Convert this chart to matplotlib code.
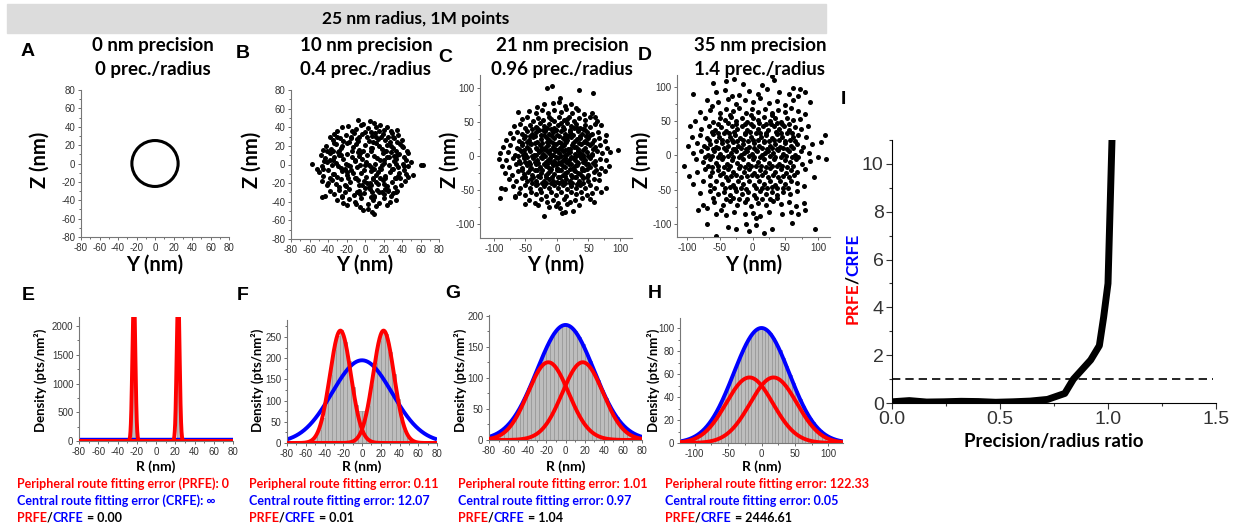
import numpy as np
import matplotlib
matplotlib.use('Agg')
import matplotlib.pyplot as plt
from matplotlib.patches import Circle, Rectangle
from matplotlib.ticker import MultipleLocator, FormatStrFormatter

W, H = 1239, 527
plt.rcParams['font.family'] = ['Liberation Sans', 'DejaVu Sans']
plt.rcParams['axes.unicode_minus'] = False
BOLD = ['Lato', 'DejaVu Sans']
TICKFONT = ['Liberation Sans Narrow', 'Liberation Sans', 'DejaVu Sans']

# ---------------- data ----------------
banner_title = "25 nm radius, 1M points"
precisions = ["0 nm precision", "10 nm precision", "21 nm precision", "35 nm precision"]
prec_ratio = ["0 prec./radius", "0.4 prec./radius", "0.96 prec./radius", "1.4 prec./radius"]
radius_A = 25

B_yz = [(-8,48),(5,47),(-2,44),(10,45),
    (-25,40),(-18,41),(-10,38),(-4,42),(3,39),(12,40),(20,37),(28,36),(35,37),(-30,36),(-14,36),(7,35),(16,42),(24,40),
    (-38,30),(-33,33),(-27,28),(-21,32),(-15,30),(-9,27),(-3,33),(2,29),(8,31),(14,27),(19,33),(25,30),(31,28),(36,32),
    (40,26),(-35,26),(-24,25),(-12,34),(4,25),(11,34),(22,26),(29,34),(-6,30),(17,29),
    (-42,20),(-37,17),(-31,22),(-26,18),(-20,23),(-13,19),(-7,16),(0,21),(6,18),(12,23),(18,17),(24,21),(30,18),(35,24),
    (41,19),(45,15),(-45,16),(-28,15),(-17,24),(-2,15),(9,24),(21,15),(33,15),(38,22),(-34,23),(27,24),(15,20),(-10,22),
    (-48,10),(-43,7),(-38,12),(-33,8),(-29,13),(-24,6),(-19,11),(-14,8),(-8,13),(-3,6),(2,10),(7,14),(13,7),(19,12),
    (24,8),(28,13),(33,6),(37,11),(42,8),(47,12),(-41,14),(-26,10),(-11,5),(10,9),(31,9),(44,5),(-35,5),(16,5),(-6,9),(23,14),
    (-57,1),(-52,-5),(-46,-2),(-41,3),(-36,-1),(-31,2),(-26,-4),(-21,1),(-16,-2),(-11,4),(-5,-1),(1,3),(6,-3),(11,1),
    (16,-4),(21,2),(26,-1),(31,4),(36,-3),(41,1),(46,-2),(50,3),(60,-1),(63,-1),(-29,-2),(-44,4),(18,0),(34,1),(-9,-3),(4,-1),
    (-50,-8),(-45,-12),(-40,-6),(-35,-10),(-30,-13),(-25,-7),(-20,-11),(-15,-6),(-10,-14),(-4,-9),(1,-13),(6,-7),(12,-11),
    (17,-5),(22,-12),(27,-8),(32,-14),(37,-9),(42,-6),(47,-13),(52,-11),(-38,-14),(-22,-5),(9,-14),(29,-5),(44,-10),
    (-13,-9),(-1,-6),(14,-8),(36,-12),
    (-46,-18),(-41,-22),(-36,-17),(-31,-21),(-26,-16),(-21,-23),(-16,-19),(-11,-15),(-6,-22),(-1,-18),(4,-24),(9,-16),
    (14,-21),(19,-17),(24,-23),(29,-19),(34,-15),(39,-22),(43,-18),(-28,-24),(-8,-17),(12,-19),(2,-20),(21,-21),(32,-24),
    (-18,-15),(6,-22),(16,-15),
    (-38,-28),(-33,-32),(-28,-27),(-22,-30),(-17,-26),(-12,-33),(-6,-28),(-1,-31),(5,-26),(10,-34),(15,-29),(20,-32),
    (25,-27),(30,-31),(35,-28),(-43,-34),(-25,-34),(0,-25),(13,-27),(28,-34),(-9,-30),(22,-26),(8,-30),
    (-30,-38),(-24,-41),(-17,-37),(-11,-40),(-4,-36),(3,-42),(9,-38),(15,-41),(21,-36),(27,-40),(33,-38),(-20,-44),
    (6,-35),(24,-43),(12,-45),(-46,-35),
    (-5,-46),(3,-48),(8,-51),(10,-53),(-2,-49),
    (-35,15),(-25,20),(-15,28),(0,35),(12,30),(28,20),(35,10),(30,-5),(38,-15),(25,-28),(10,-35),(-5,-32),(-22,-22),
    (-33,-10),(-38,5),(-28,10),(-20,-8),(18,-30),(30,30),(-30,30),(-8,25),(5,-20),(-14,14),(20,5),(-45,-5),(42,-2),
    (-10,-42),(15,36),(-40,-20),(33,-30),(0,0),(-5,12),(10,-5),(-18,0),(22,-15),(8,18),(-25,-35),(40,20),(-3,-22),(26,8)]

C_yz = [(-15,100),(-8,103),(35,97),(57,93),(5,86),
    (-32,72),(-20,76),(-7,78),(4,80),(13,73),(22,76),(31,70),
    (-62,65),(-45,66),(-34,64),(-24,67),(-14,63),(-4,68),(6,65),(15,69),(24,64),(33,67),(43,62),(55,64),(60,58),
    (-56,54),(-47,57),(-38,52),(-30,56),(-22,53),(-13,58),(-5,52),(3,57),(11,53),(19,58),(27,52),(35,56),(44,53),(52,57),
    (63,52),(-9,55),(16,55),
    (-68,44),(-58,47),(-50,42),(-42,46),(-34,43),(-27,48),(-20,44),(-12,47),(-5,42),(2,46),(9,43),(16,48),(23,44),(30,47),
    (37,42),(45,46),(53,43),(61,47),(70,45),(-16,41),(6,49),(27,41),
    (-75,34),(-64,36),(-55,32),(-47,37),(-40,33),(-33,36),(-26,31),(-19,37),(-12,33),(-6,36),(0,31),(7,37),(13,33),
    (20,36),(26,31),(33,37),(40,32),(48,36),(56,33),(65,35),(78,31),(-29,39),(-2,39),(18,30),(44,38),
    (-80,24),(-70,27),(-60,22),(-52,26),(-45,23),(-38,28),(-31,21),(-25,25),(-18,28),(-11,22),(-4,26),(3,21),(9,27),
    (16,23),(22,28),(29,22),(36,26),(43,21),(50,27),(58,23),(67,26),(76,22),(-14,25),(12,24),(32,25),(-42,19),
    (-85,14),(-74,16),(-63,12),(-55,17),(-48,13),(-41,18),(-34,12),(-27,16),(-20,11),(-14,17),(-7,13),(-1,18),(5,12),
    (11,16),(18,11),(24,17),(31,13),(38,18),(45,12),(52,16),(60,13),(69,17),(80,12),(-17,14),(8,15),(27,14),(-3,10),(48,19),
    (-90,4),(-78,6),(-66,2),(-57,7),(-50,3),(-43,8),(-36,2),(-29,6),(-22,3),(-16,8),(-9,2),(-3,7),(3,4),(9,8),(15,2),
    (21,6),(28,3),(34,8),(41,2),(48,6),(55,3),(63,7),(72,4),(84,6),(97,9),(-12,5),(18,4),(0,9),(37,5),(-26,9),
    (-92,-4),(-80,-6),(-69,-2),(-60,-7),(-52,-3),(-45,-8),(-38,-2),(-31,-6),(-24,-3),(-18,-8),(-11,-2),(-5,-7),(1,-3),
    (7,-8),(13,-2),(19,-6),(25,-3),(32,-8),(38,-2),(45,-6),(52,-3),(60,-7),(68,-4),(78,-6),(-14,-5),(10,-5),(29,-5),
    (-35,-9),(4,-10),
    (-87,-14),(-76,-16),(-65,-12),(-56,-17),(-48,-13),(-41,-18),(-34,-12),(-27,-16),(-20,-11),(-13,-17),(-7,-13),(0,-18),
    (6,-12),(12,-16),(19,-11),(25,-17),(32,-13),(39,-18),(46,-12),(53,-16),(61,-13),(70,-17),(82,-14),(-17,-14),(9,-15),
    (29,-14),(-2,-11),
    (-82,-24),(-71,-27),(-61,-22),(-53,-26),(-46,-23),(-39,-28),(-32,-21),(-25,-25),(-18,-28),(-11,-22),(-4,-26),(3,-21),
    (9,-27),(16,-23),(22,-28),(29,-22),(36,-26),(43,-21),(50,-27),(58,-23),(67,-26),(76,-22),(-14,-25),(13,-24),(33,-25),
    (-76,-34),(-65,-36),(-56,-32),(-48,-37),(-41,-33),(-34,-36),(-27,-31),(-20,-37),(-13,-33),(-6,-36),(1,-31),(8,-37),
    (14,-33),(21,-36),(28,-31),(35,-37),(42,-32),(50,-36),(58,-33),(66,-35),(-17,-40),(4,-39),(24,-40),
    (-70,-44),(-59,-47),(-50,-42),(-42,-46),(-34,-43),(-27,-48),(-20,-44),(-12,-47),(-5,-42),(2,-46),(9,-43),(16,-48),
    (23,-44),(30,-47),(37,-42),(45,-46),(53,-43),(62,-47),(78,-46),(-88,-46),(-90,-62),(-82,-48),
    (-60,-54),(-50,-57),(-41,-52),(-33,-56),(-25,-53),(-17,-58),(-9,-52),(-2,-57),(6,-53),(14,-58),(22,-52),(30,-56),
    (38,-53),(47,-57),(56,-54),(-66,-58),(70,-52),
    (-45,-64),(-35,-68),(-25,-63),(-16,-67),(-7,-64),(2,-68),(11,-63),(20,-67),(29,-65),(40,-62),(53,-63),(58,-67),
    (-50,-70),(-67,-60),
    (-30,-72),(-12,-74),(5,-76),(12,-82),(8,-84),(-20,-88),(25,-80),(35,-72),(-2,-73),(16,-70),
    (-40,40),(-31,41),(-22,39),(-10,40),(-1,38),(11,40),(21,39),(32,41),(41,40),
    (-50,30),(-42,29),(-35,30),(-21,31),(-8,29),(4,30),(15,29),(23,32),(37,30),(46,29),(53,31),
    (-55,20),(-47,21),(-35,19),(-23,20),(-15,21),(-6,19),(6,20),(14,21),(26,19),(35,20),(44,22),(55,20),
    (-60,10),(-52,9),(-45,11),(-31,10),(-24,12),(-11,9),(-5,11),(7,10),(13,9),(21,11),(34,10),(42,9),(57,10),
    (-62,0),(-54,1),(-47,-1),(-40,0),(-33,1),(-26,-1),(-19,0),(-7,1),(-1,-1),(6,0),(12,1),(22,-1),(30,0),(35,1),
    (42,-1),(49,0),(56,1),
    (-58,-10),(-50,-9),(-42,-11),(-30,-10),(-16,-11),(-9,-9),(2,-10),(15,-9),(22,-11),(34,-10),(41,-9),(50,-11),(57,-10),
    (-55,-20),(-43,-19),(-35,-20),(-23,-21),(-9,-19),(0,-20),(7,-21),(20,-19),(27,-20),(40,-21),(48,-19),(62,-20),
    (-50,-30),(-38,-31),(-30,-29),(-17,-30),(-8,-31),(5,-30),(12,-29),(24,-30),(31,-31),(39,-29),(47,-30),
    (-40,-40),(-31,-41),(-23,-39),(-9,-40),(0,-38),(13,-40),(20,-39),(32,-41),(41,-40)]

D_yz = [(-40,108),(-28,111),(-15,104),(15,102),(30,115),(33,110),(-60,105),(72,96),(80,92),(62,98),
    (-90,89),(-55,92),(-42,95),(-20,88),(-5,93),(8,90),(22,97),(40,92),(55,89),(70,87),(-32,86),
    (-70,80),(-52,77),(-38,82),(-25,75),(-12,80),(0,77),(12,83),(25,76),(38,79),(50,74),(62,80),(-62,72),(88,78),
    (-80,63),(-64,66),(-50,62),(-40,68),(-30,64),(-20,69),(-10,62),(-1,67),(9,63),(19,68),(29,62),(39,66),(49,63),
    (58,69),(70,64),(80,60),(-35,58),
    (-88,50),(-72,54),(-60,49),(-50,55),(-42,51),(-33,56),(-25,50),(-16,54),(-8,49),(1,55),(9,51),(17,56),(26,50),
    (35,54),(44,49),(53,55),(62,51),(72,53),(-3,58),(30,58),
    (-95,42),(-78,38),(-67,43),(-57,37),(-48,41),(-40,36),(-32,43),(-24,38),(-16,42),(-8,37),(0,43),(8,38),(16,42),
    (24,37),(32,43),(40,38),(48,42),(56,37),(64,41),(74,38),(85,43),(-12,46),(21,46),(45,46),
    (-92,26),(-80,30),(-70,25),(-60,31),(-51,27),(-43,32),(-35,26),(-27,30),(-19,25),(-11,31),(-3,27),(5,32),(13,26),
    (21,30),(29,25),(37,31),(45,27),(53,32),(61,26),(70,30),(82,27),(110,30),(-39,21),(-7,21),(17,21),(49,21),
    (-98,14),(-85,18),(-74,13),(-64,17),(-55,12),(-46,18),(-38,14),(-30,19),(-22,13),(-14,17),(-6,12),(2,18),(10,14),
    (18,19),(26,13),(34,17),(42,12),(50,18),(58,14),(67,17),(77,12),(90,16),(105,19),(-26,9),(6,8),(38,9),
    (-90,3),(-78,6),(-68,1),(-58,7),(-49,2),(-41,8),(-33,3),(-25,6),(-17,1),(-9,7),(-1,2),(7,6),(15,1),(23,7),(31,3),
    (39,8),(47,2),(55,6),(64,1),(74,7),(86,3),(100,-3),(112,-5),(-13,4),(19,4),
    (-105,-15),(-86,-6),(-75,-10),(-65,-5),(-56,-11),(-47,-6),(-39,-12),(-31,-7),(-23,-11),(-15,-5),(-7,-12),(1,-6),
    (9,-10),(17,-5),(25,-11),(33,-6),(41,-12),(49,-7),(57,-10),(66,-5),(76,-12),(88,-8),(-3,-16),(29,-16),(-61,-17),
    (-96,-30),(-84,-24),(-72,-20),(-62,-25),(-53,-21),(-45,-26),(-37,-20),(-29,-24),(-21,-19),(-13,-25),(-5,-20),
    (3,-26),(11,-21),(19,-25),(27,-19),(35,-24),(43,-20),(51,-26),(59,-21),(68,-24),(80,-20),(94,-32),(-41,-31),
    (-9,-30),(23,-31),(55,-31),
    (-90,-42),(-76,-38),(-65,-43),(-55,-37),(-46,-42),(-38,-36),(-30,-43),(-22,-38),(-14,-42),(-6,-37),(2,-43),(10,-38),
    (18,-42),(26,-37),(34,-43),(42,-38),(50,-42),(58,-37),(67,-41),(78,-44),(-26,-48),(6,-48),(38,-48),
    (-80,-55),(-65,-52),(-53,-57),(-43,-53),(-34,-58),(-25,-52),(-16,-56),(-7,-53),(2,-58),(11,-52),(20,-57),(29,-53),
    (38,-58),(47,-54),(57,-56),(68,-52),(-60,-62),(15,-63),(-20,-64),
    (-75,-72),(-58,-68),(-45,-73),(-35,-67),(-24,-72),(-12,-68),(-2,-74),(9,-69),(20,-73),(31,-67),(43,-71),(55,-68),
    (66,-74),(78,-70),(-83,-80),(-70,-77),
    (-55,-85),(-40,-87),(-28,-82),(-12,-86),(0,-84),(12,-88),(25,-83),(45,-85),(58,-82),(70,-86),(80,-80),(-48,-80),(5,-92),
    (-38,-105),(-25,-108),(-10,-100),(5,-102),(-5,-110),(18,-113),(30,-108),(95,-107),(-55,-118),(-70,-100),(60,-98),
    (-52,46),(-38,47),(-25,45),(-3,46),(10,47),(28,45),(38,47),(55,46),
    (-62,34),(-52,33),(-36,32),(-28,34),(-12,33),(-4,34),(12,32),(20,33),(36,34),(44,33),(60,32),
    (-66,22),(-56,21),(-47,23),(-31,22),(-23,21),(-15,23),(1,22),(9,23),(25,21),(33,22),(41,23),(57,22),(65,21),
    (-70,10),(-60,9),(-52,11),(-43,10),(-29,9),(-18,11),(-10,9),(3,10),(14,11),(22,9),(30,11),(46,10),(53,9),(62,11),
    (-72,-2),(-62,-1),(-53,-3),(-45,-2),(-37,-1),(-29,-3),(-21,-2),(-5,-1),(3,-3),(11,-2),(27,-1),(35,-3),(43,-2),
    (51,-1),(60,-3),(70,-2),
    (-68,-16),(-52,-15),(-43,-17),(-35,-16),(-19,-15),(-11,-17),(5,-16),(13,-15),(21,-17),(37,-16),(45,-15),(53,-17),(62,-15),
    (-64,-30),(-50,-29),(-33,-30),(-25,-28),(-17,-31),(-1,-29),(7,-30),(15,-28),(31,-29),(39,-31),(47,-30),(63,-29),
    (-58,-47),(-42,-48),(-34,-46),(-18,-47),(-10,-49),(14,-47),(22,-48),(30,-46),(46,-47),(54,-48),
    (-40,-63),(-30,-62),(-8,-63),(5,-62),(26,-63),(38,-62)]

# radial density histograms (bin centre in nm, density in pts/nm^2)
E_centres = [-23, 23]
E_hist = [2000, 2000]
F_centres = list(range(-78, 79, 4))
F_hist = [0, 0, 0, 0, 1, 2, 5, 13, 31, 58, 107, 160, 219, 252, 266, 238, 193, 131, 90, 75,
          75, 87, 136, 189, 241, 262, 256, 214, 163, 104, 61, 29, 12, 5, 2, 1, 0, 0, 0, 0]
G_centres = list(range(-78, 79, 4))
G_hist = [6, 8, 12, 16, 22, 28, 35, 46, 56, 69, 84, 97, 112, 125, 143, 153, 166, 174, 182, 184,
          185, 181, 176, 165, 155, 140, 127, 110, 97, 81, 67, 57, 45, 37, 27, 21, 16, 12, 8, 6]
H_centres = [c + 2.5 for c in range(-115, 115, 5)]
H_hist = [3, 4, 5, 6, 8, 11, 14, 18, 22, 27, 32, 38, 45, 52, 59, 67, 74, 80, 86, 92, 96, 98, 100,
          100, 98, 96, 91, 86, 81, 74, 67, 59, 52, 45, 38, 32, 27, 22, 18, 14, 11, 8, 6, 5, 4, 3]

# fitted gaussians: (amplitude, |centre|, sigma)
E_peri, E_cent = (2600, 23, 1.5), (22, 0, 2000)
F_peri, F_cent = (265, 23, 11.2), (195, 0, 32)
G_peri, G_cent = (125, 18, 21.3), (185, 0, 29.8)
H_peri, H_cent = (57, 18, 35), (100, 0, 41.6)

prfe_txt = ["Peripheral route fitting error (PRFE): 0", "Peripheral route fitting error: 0.11",
            "Peripheral route fitting error: 1.01", "Peripheral route fitting error: 122.33"]
crfe_txt = ["Central route fitting error (CRFE): \u221e", "Central route fitting error: 12.07",
            "Central route fitting error: 0.97", "Central route fitting error: 0.05"]
ratio_txt = ["0.00", "0.01", "1.04", "2446.61"]

# panel I
I_ratio = [0.0, 0.08, 0.16, 0.24, 0.32, 0.40, 0.48, 0.56, 0.64, 0.72, 0.80, 0.84, 0.88, 0.92, 0.96, 0.98, 1.0, 1.02]
I_prfe_crfe = [0.05, 0.1, 0.04, 0.05, 0.07, 0.06, 0.03, 0.05, 0.08, 0.15, 0.4, 1.0, 1.4, 1.8, 2.4, 3.6, 5.0, 11.5]


# ---------------- helpers ----------------
fig = plt.figure(figsize=(W / 100, H / 100), dpi=100)
over = fig.add_axes([0, 0, 1, 1], zorder=5)
over.set_xlim(0, W)
over.set_ylim(H, 0)
over.axis('off')
renderer = fig.canvas.get_renderer()


def px_ax(l, t, r, b):
    return fig.add_axes([l / W, 1 - b / H, (r - l) / W, (b - t) / H])


def style_small(ax, xmaj, ymaj):
    for s in ['top', 'right']:
        ax.spines[s].set_visible(False)
    for s in ['left', 'bottom']:
        ax.spines[s].set_color('#777777')
        ax.spines[s].set_linewidth(0.8)
    ax.xaxis.set_major_locator(MultipleLocator(xmaj))
    ax.xaxis.set_minor_locator(MultipleLocator(xmaj / 2))
    ax.yaxis.set_major_locator(MultipleLocator(ymaj))
    ax.yaxis.set_minor_locator(MultipleLocator(ymaj / 2))
    ax.tick_params(which='both', direction='out', labelsize=7, colors='#555555',
                   labelcolor='#333333', width=0.6, pad=1.5)
    ax.tick_params(which='major', length=2.5)
    ax.tick_params(which='minor', length=1.5)
    for lab in ax.get_xticklabels() + ax.get_yticklabels():
        lab.set_fontfamily(TICKFONT)


def txt(x, y, s, **kw):
    kw.setdefault('ha', 'center')
    kw.setdefault('va', 'center')
    kw.setdefault('fontfamily', BOLD)
    kw.setdefault('fontweight', 'bold')
    return over.text(x, y, s, **kw)


def multicolor(x, y, parts, size):
    t = over.text(x, y, parts[0][0], color=parts[0][1], fontsize=size, fontfamily=BOLD,
                  fontweight='bold', ha='left', va='bottom')
    for s, c in parts[1:]:
        t = over.annotate(s, xy=(1, 0), xycoords=t, color=c, fontsize=size, fontfamily=BOLD,
                          fontweight='bold', ha='left', va='bottom')


def width_px(s, size):
    t = over.text(0, 0, s, fontsize=size, fontfamily=BOLD, fontweight='bold')
    w = t.get_window_extent(renderer).width
    t.remove()
    return w


def gauss(x, amp, mu, sig):
    return amp * np.exp(-(x - mu) ** 2 / (2 * sig ** 2))


# ---------------- banner + titles ----------------
over.add_patch(Rectangle((7, 4), 819, 29, color='#dcdcdc', zorder=0))
txt(416, 19, banner_title, fontsize=12.5)

title_x = [153, 366, 562, 760]
for i in range(4):
    txt(title_x[i], 45, precisions[i], fontsize=13.5)
    txt(title_x[i], 70, prec_ratio[i], fontsize=13.5)

for lab, (x, y) in zip("ABCDEFGHI", [(28, 52), (243, 53), (445, 57), (645, 55),
                                     (28, 295), (243, 295), (453, 293), (655, 293), (843, 100)]):
    txt(x, y, lab, fontsize=14, fontfamily=['Liberation Sans'])

# ---------------- scatter row ----------------
scatter_boxes = [(81, 90, 229, 237), (291, 90, 439, 239), (480, 75, 632, 238), (677, 75, 830, 237)]
scatter_lims = [((-80, 80), (-80, 80)), ((-80, 80), (-80, 80)),
                ((-122, 119), (-120, 119)), ((-115, 118), (-119, 117))]
zlabel_x = [40, 252, 450, 642]
clouds = [None, B_yz, C_yz, D_yz]

for i, box in enumerate(scatter_boxes):
    ax = px_ax(*box)
    (x0, x1), (y0, y1) = scatter_lims[i]
    ax.set_xlim(x0, x1)
    ax.set_ylim(y0, y1)
    if i < 2:
        style_small(ax, 20, 20)
    else:
        style_small(ax, 50, 50)
    if clouds[i] is None:
        ax.add_patch(Circle((0, 0), radius_A, fill=False, lw=2.2, ec='black'))
    else:
        y, z = zip(*clouds[i])
        ax.scatter(y, z, s=13, c='black', marker='o', linewidths=0)
    cx = (box[0] + box[2]) / 2
    txt(cx, 265, 'Y (nm)', fontsize=14.5)
    txt(zlabel_x[i], 160, 'Z (nm)', fontsize=14.5, rotation=90)

# ---------------- histogram row ----------------
hist_boxes = [(79, 317, 233, 441), (287, 320, 437, 443), (489, 315, 642, 440), (680, 318, 843, 443)]
hist_data = [(E_centres, E_hist, 3, E_peri, E_cent), (F_centres, F_hist, 4, F_peri, F_cent),
             (G_centres, G_hist, 4, G_peri, G_cent), (H_centres, H_hist, 5, H_peri, H_cent)]
hist_lims = [((-80, 80), (0, 2157)), ((-80, 80), (0, 290)), ((-80, 80), (0, 201)), ((-122, 122), (0, 108.7))]
hist_ticks = [(20, 500), (20, 50), (20, 50), (50, 20)]
dens_x = [40, 257, 460, 653]
text_x = [17, 249, 458, 665]

for i, box in enumerate(hist_boxes):
    ax = px_ax(*box)
    cen, hts, wid, peri, cent = hist_data[i]
    (x0, x1), (y0, y1) = hist_lims[i]
    ax.bar(cen, hts, width=wid, color='#bdbdbd', edgecolor='#8a8a8a', linewidth=0.4, zorder=1)
    xs = np.linspace(x0, x1, 2000)
    ax.plot(xs, gauss(xs, *cent), color='#0000ff', lw=2.8, zorder=2, solid_capstyle='butt')
    ax.plot(xs, gauss(xs, peri[0], -peri[1], peri[2]), color='#ff0000', lw=2.8, zorder=3)
    ax.plot(xs, gauss(xs, peri[0], peri[1], peri[2]), color='#ff0000', lw=2.8, zorder=3)
    ax.set_xlim(x0, x1)
    ax.set_ylim(y0, y1)
    style_small(ax, *hist_ticks[i])
    cx = (box[0] + box[2]) / 2
    txt(cx, 467, 'R (nm)', fontsize=10)
    txt(dens_x[i], 380, 'Density (pts/nm\u00b2)', fontsize=9.5, rotation=90)
    multicolor(text_x[i], 490, [(prfe_txt[i], '#ff0000')], 9)
    multicolor(text_x[i], 507, [(crfe_txt[i], '#0000ff')], 9)
    multicolor(text_x[i], 524, [('PRFE', '#ff0000'), ('/', 'black'), ('CRFE', '#0000ff'),
                                (' = ' + ratio_txt[i], 'black')], 9)

# ---------------- panel I ----------------
ax = px_ax(892, 140, 1216, 403)
ax.plot(I_ratio, I_prfe_crfe, color='black', lw=5, solid_joinstyle='round', zorder=3)
ax.axhline(1, color='black', lw=1.2, dashes=(5, 3), xmin=0, xmax=0.99)
ax.set_xlim(0, 1.5)
ax.set_ylim(0, 11)
for s in ['top', 'right']:
    ax.spines[s].set_visible(False)
ax.xaxis.set_major_locator(MultipleLocator(0.5))
ax.xaxis.set_minor_locator(MultipleLocator(0.25))
ax.yaxis.set_major_locator(MultipleLocator(2))
ax.yaxis.set_minor_locator(MultipleLocator(1))
ax.xaxis.set_major_formatter(FormatStrFormatter('%.1f'))
ax.tick_params(which='both', direction='out', labelsize=14, colors='#333333', width=0.8, pad=2)
ax.tick_params(which='major', length=4)
ax.tick_params(which='minor', length=2.5)
txt(1054, 441, 'Precision/radius ratio', fontsize=13.5)

# rotated two-colour label, pieces stacked upward from the bottom
label_parts = [('PRFE', '#ff0000'), ('/', 'black'), ('CRFE', '#0000ff')]
prefix = ''
for s, c in label_parts:
    off = width_px(prefix, 12.5) - 1.5 * len(prefix) / 4 if prefix else 0
    over.text(853, 324 - off, s, color=c, fontsize=12.5, fontfamily=BOLD, fontweight='bold',
              rotation=90, ha='center', va='bottom')
    prefix += s

fig.savefig('out.png', dpi=100)
